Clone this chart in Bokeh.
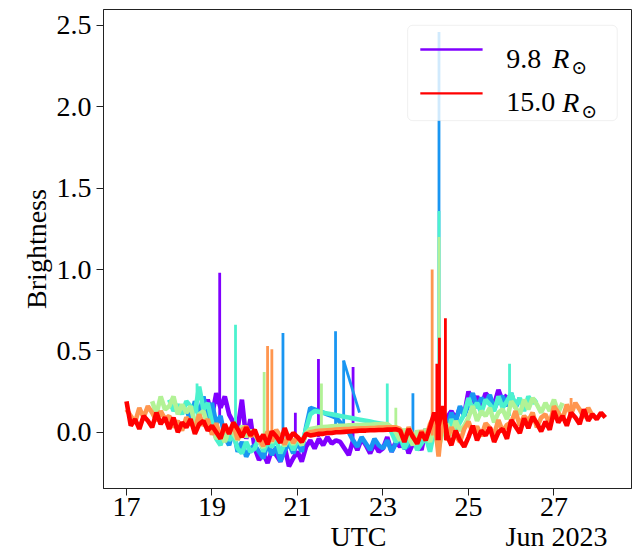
import numpy as np
from bokeh.plotting import figure
from bokeh.models import FixedTicker, BoxAnnotation, Range1d, PrintfTickFormatter
from bokeh.core.properties import value
from bokeh.embed import file_html
from bokeh.resources import INLINE

# Observation times: days of June 2023 (UTC), one sample every 0.1 d
days = np.round(np.arange(17.0, 28.2 + 1e-9, 0.1), 1)

# Heliocentric distances of the brightness profiles (solar radii)
radii = [9.8, 10.84, 11.88, 12.92, 13.96, 15.0]
colors = ["#8000ff", "#1996f2", "#4cf2ce", "#b2f296", "#ff964f", "#ff0000"]
starts = [18.8, 18.4, 18.0, 17.6, 17.0, 17.0]

bright_r0 = [
    0.12, 0.20,                                                        # 18.8
    0.10, 0.24, 0.15, 0.22, 0.11, 0.06, 0.02, 0.20, -0.04, 0.08,       # 19
    -0.10, -0.17, -0.13, -0.19, -0.11, -0.14, -0.18, -0.09, -0.21, -0.16,  # 20
    -0.12, -0.18, -0.09, -0.05, -0.10, -0.04, -0.08, -0.03, -0.07, -0.05,  # 21
    -0.06, -0.10, -0.14, -0.05, -0.11, -0.04, -0.08, -0.13, -0.07, -0.12,  # 22
    -0.10, -0.03, -0.12, -0.06, -0.09, -0.04, -0.13, -0.07, -0.05, -0.11,  # 23
    0.02, -0.05, 0.06, 0.00, 0.04, 0.09, 0.13, 0.08, 0.15, 0.11,       # 24
    0.25, 0.18, 0.22, 0.16, 0.24, 0.21, 0.17, 0.26, 0.19, 0.23,        # 25
]
bright_r1 = [
    0.14, 0.07, 0.19, 0.11, 0.22, 0.08,                                # 18.4
    0.18, 0.05, 0.10, -0.03, -0.08, 0.02, -0.12, -0.06, -0.15, -0.10,  # 19
    -0.08, -0.12, -0.16, -0.07, -0.14, -0.09, -0.18, -0.11, -0.07, -0.13,  # 20
    -0.06, -0.12, 0.03, 0.15, 0.14, 0.13, 0.12, 0.11, 0.10, 0.09,      # 21
    0.06, 0.03, 0.00, -0.05, -0.09, -0.03, -0.07, -0.11, -0.04, -0.08,  # 22
    -0.10, -0.05, -0.12, -0.07, -0.04, -0.10, -0.08, -0.02, -0.09, -0.05,  # 23
    -0.01, -0.09, 0.02, -0.06, 0.05, 0.02, 0.12, 0.06, 0.16, 0.10,     # 24
    0.17, 0.24, 0.15, 0.21, 0.18, 0.23, 0.14, 0.20, 0.22, 0.16,        # 25
    0.24, 0.15, 0.21,                                                  # 26
]
bright_r2 = [
    0.20, 0.13, 0.17, 0.11, 0.19, 0.16, 0.12, 0.28, 0.14, 0.18,        # 18
    0.06, -0.04, -0.08, 0.01, -0.05, -0.02, -0.10, -0.13, -0.06, -0.12,  # 19
    -0.10, -0.03, -0.12, -0.06, -0.09, -0.04, -0.13, -0.07, -0.05, -0.11,  # 20
    -0.05, -0.08, 0.02, 0.11, 0.13, 0.125, 0.12, 0.115, 0.11, 0.105,   # 21
    0.10, 0.095, 0.09, 0.085, 0.08, 0.075, 0.07, 0.065, 0.06, 0.055,   # 22
    0.05, 0.045, 0.00, -0.06, -0.02, -0.10, -0.05, -0.02, -0.11, -0.07,  # 23
    -0.03, -0.12, 0.01, -0.08, 0.04, -0.02, 0.08, 0.02, 0.06, 0.11,    # 24
    0.21, 0.14, 0.18, 0.12, 0.20, 0.17, 0.13, 0.22, 0.15, 0.19,        # 25
    0.24, 0.16, 0.21, 0.13, 0.22, 0.18, 0.20,                          # 26
]
bright_r3 = [
    0.19, 0.11, 0.22, 0.14,                                            # 17.6
    0.16, 0.22, 0.11, 0.17, 0.12, 0.16, 0.05, 0.11, 0.13, 0.04,        # 18
    0.03, -0.04, 0.00, -0.06, 0.02, -0.01, -0.05, 0.04, -0.03, 0.01,   # 19
    -0.015, -0.055, -0.095, -0.005, -0.065, 0.005, -0.035, -0.085, -0.025, -0.075,  # 20
    -0.03, -0.08, -0.01, 0.02, 0.025, 0.03, 0.032, 0.034, 0.036, 0.038,  # 21
    0.04, 0.04, 0.042, 0.042, 0.044, 0.044, 0.046, 0.046, 0.048, 0.048,  # 22
    0.05, 0.05, 0.03, 0.00, -0.05, 0.02, -0.03, -0.08, 0.01, -0.04,    # 23
    0.02, -0.06, 0.03, -0.10, 0.01, 0.05, -0.02, 0.07, 0.01, 0.04,     # 24
    0.09, 0.16, 0.07, 0.13, 0.10, 0.15, 0.06, 0.12, 0.14, 0.08,        # 25
    0.19, 0.15, 0.11, 0.20, 0.14, 0.21, 0.17, 0.12, 0.18, 0.13,        # 26
    0.20, 0.12, 0.18,                                                  # 27
]
bright_r4 = [
    0.14, 0.10, 0.06, 0.15, 0.09, 0.16, 0.12, 0.07, 0.13, 0.08,        # 17
    0.10, 0.03, 0.07, 0.01, 0.09, 0.06, 0.02, 0.11, 0.04, 0.08,        # 18
    -0.015, 0.055, -0.035, 0.025, -0.005, 0.045, -0.045, 0.015, 0.035, -0.025,  # 19
    -0.005, -0.045, -0.085, 0.005, -0.055, 0.015, -0.025, -0.075, -0.015, -0.065,  # 20
    -0.03, -0.06, -0.01, 0.00, 0.005, 0.008, 0.01, 0.012, 0.014, 0.016,  # 21
    0.018, 0.02, 0.02, 0.022, 0.022, 0.024, 0.024, 0.026, 0.026, 0.028,  # 22
    0.028, 0.03, 0.03, 0.03, 0.02, -0.05, 0.03, -0.02, -0.07, 0.01,    # 23
    -0.04, 0.05, 0.10, -0.15, 0.12, -0.05, 0.03, -0.02, -0.06, 0.02,   # 24
    0.065, -0.005, 0.035, -0.025, 0.055, 0.025, -0.015, 0.075, 0.005, 0.045,  # 25
    0.06, 0.13, 0.04, 0.10, 0.07, 0.12, 0.03, 0.09, 0.11, 0.05,        # 26
    0.16, 0.12, 0.08, 0.17, 0.11, 0.18, 0.14, 0.09, 0.15, 0.10,        # 27
]
bright_r5 = [
    0.19, 0.04, 0.08, 0.02, 0.10, 0.07, 0.03, 0.12, 0.05, 0.09,        # 17
    0.02, 0.09, 0.00, 0.06, 0.03, 0.08, -0.01, 0.05, 0.07, 0.01,       # 18
    0.04, 0.00, -0.04, 0.05, -0.01, 0.06, 0.02, -0.03, 0.03, -0.02,    # 19
    0.015, -0.055, -0.015, -0.075, 0.005, -0.025, -0.065, 0.025, -0.045, -0.005,  # 20
    -0.03, -0.06, -0.01, -0.02, -0.015, -0.01, -0.01, -0.005, -0.005, 0.0,  # 21
    0.0, 0.002, 0.004, 0.006, 0.008, 0.01, 0.01, 0.012, 0.012, 0.014,  # 22
    0.014, 0.016, 0.016, 0.018, 0.01, -0.06, 0.02, -0.03, -0.07, 0.00,  # 23
    -0.05, 0.03, 0.12, 0.04, 0.16, -0.02, -0.08, 0.01, -0.05, -0.09,   # 24
    -0.03, 0.04, -0.05, 0.01, -0.02, 0.03, -0.06, 0.00, 0.02, -0.04,   # 25
    0.075, 0.035, -0.005, 0.085, 0.025, 0.095, 0.055, 0.005, 0.065, 0.015,  # 26
    0.13, 0.06, 0.10, 0.04, 0.12, 0.09, 0.05, 0.14, 0.07, 0.11,        # 27
    0.08, 0.12, 0.09,                                                  # 28
]
profiles = [bright_r0, bright_r1, bright_r2, bright_r3, bright_r4, bright_r5]

# Isolated transient spikes: (t0, b0) -> (t1, b1) and the profile they belong to
spike_t0 = [18.65, 19.18, 19.55, 20.22, 20.30, 20.40, 20.66, 20.95, 21.49, 21.56,
            21.89, 22.08, 22.08, 22.30, 23.10, 23.30, 23.70, 24.15, 24.31, 24.31,
            24.31, 24.26, 24.32, 24.46, 25.96, 27.40]
spike_b0 = [0.05, 0.10, 0.00, -0.02, -0.02, -0.02, -0.05, -0.05, -0.03, 0.03,
            0.05, 0.05, 0.44, -0.05, 0.03, 0.00, -0.03, -0.02, 0.00, 0.00,
            0.00, -0.05, -0.05, -0.05, 0.10, 0.10]
spike_t1 = [18.65, 19.18, 19.55, 20.22, 20.30, 20.40, 20.66, 20.95, 21.49, 21.56,
            21.89, 22.08, 22.45, 22.30, 23.10, 23.30, 23.70, 24.15, 24.31, 24.31,
            24.31, 24.26, 24.32, 24.46, 25.96, 27.40]
spike_b1 = [0.30, 0.98, 0.66, 0.37, 0.53, 0.51, 0.61, 0.12, 0.45, 0.30,
            0.62, 0.44, 0.12, 0.40, 0.30, 0.15, 0.24, 1.00, 2.46, 1.36,
            1.20, 0.42, 0.58, 0.70, 0.42, 0.21]
spike_prof = [2, 0, 2, 3, 4, 4, 1, 0, 0, 3,
              1, 1, 1, 0, 2, 3, 1, 4, 1, 2,
              3, 5, 5, 5, 2, 4]

x_ticks = [17, 19, 21, 23, 25, 27]
y_ticks = [0.0, 0.5, 1.0, 1.5, 2.0, 2.5]

x_lo, x_hi = 16.462, 28.813
y_lo, y_hi = -0.346, 2.598

SERIF = "Liberation Serif"
FS = "28px"
NB = "\u00a0"

p = figure(width=633, height=559, output_backend="svg", toolbar_location=None,
           x_range=Range1d(x_lo, x_hi), y_range=Range1d(y_lo, y_hi),
           min_border_left=103, min_border_right=2, min_border_top=9,
           min_border_bottom=71, background_fill_color="white",
           border_fill_color="white")
p.xgrid.visible = False
p.ygrid.visible = False
p.outline_line_color = "#222222"
p.outline_line_width = 1

for ax in (p.xaxis[0], p.yaxis[0]):
    ax.axis_line_color = "#222222"
    ax.major_tick_line_color = "#222222"
    ax.major_tick_out = 7
    ax.major_tick_in = 0
    ax.minor_tick_out = 0
    ax.minor_tick_in = 0
    ax.major_label_text_font = SERIF
    ax.major_label_text_font_size = FS
    ax.major_label_text_color = "black"
    ax.axis_label_text_font = SERIF
    ax.axis_label_text_font_size = FS
    ax.axis_label_text_font_style = "normal"
    ax.axis_label_text_color = "black"

p.xaxis.ticker = FixedTicker(ticks=x_ticks)
p.xaxis.major_label_standoff = 2
# axis title with the date offset ("Jun 2023") on the same line, flush right
p.xaxis.axis_label = NB * 29 + "UTC" + NB * 17 + "Jun 2023"
p.xaxis.axis_label_standoff = 2
p.yaxis.ticker = FixedTicker(ticks=y_ticks)
p.yaxis.formatter = PrintfTickFormatter(format="%.1f")
p.yaxis.major_label_standoff = 5
p.yaxis.axis_label = "Brightness"
p.yaxis.axis_label_standoff = 2

# Profiles, innermost first so the outer ones sit on top
for k, vals in enumerate(profiles):
    y = np.full(len(days), np.nan)
    i0 = int(round((starts[k] - 17.0) / 0.1))
    n = min(len(vals), len(days) - i0)
    y[i0:i0 + n] = vals[:n]
    p.line(days, y, line_color=colors[k], line_width=4.6, line_join="bevel")
    sel = [j for j, s in enumerate(spike_prof) if s == k]
    if sel:
        p.segment([spike_t0[j] for j in sel], [spike_b0[j] for j in sel],
                  [spike_t1[j] for j in sel], [spike_b1[j] for j in sel],
                  line_color=colors[k], line_width=2.8)


def fx(f):
    return x_lo + f * (x_hi - x_lo)


def fy(f):
    return y_hi - f * (y_hi - y_lo)


# Legend box with the two outermost profiles
p.add_layout(BoxAnnotation(left=fx(0.576), right=fx(0.973), top=fy(0.033), bottom=fy(0.232),
                           fill_color="white", fill_alpha=0.8, line_color="#cccccc",
                           line_width=1, border_radius=5))
rows = [(0, 0.0835, 0.1023, 0.1195, 0.850, 0.886), (5, 0.175, 0.194, 0.2115, 0.869, 0.905)]
for k, yline, ybase, ysub, xr, xsub in rows:
    p.line([fx(0.600), fx(0.718)], [fy(yline), fy(yline)], line_color=colors[k],
           line_width=2.4, level="overlay")
    p.text([fx(0.763)], [fy(ybase)], text=[f"{radii[k]:.1f}"], text_font=value(SERIF),
           text_font_size=FS, text_color="black", text_baseline="alphabetic",
           text_align="left", level="overlay")
    p.text([fx(xr)], [fy(ybase)], text=["R"], text_font=value(SERIF),
           text_font_size=FS, text_font_style="italic", text_color="black",
           text_baseline="alphabetic", text_align="left", level="overlay")
    p.text([fx(xsub)], [fy(ysub)], text=["⊙"], text_font=value("DejaVu Serif"),
           text_font_size="19px", text_color="black", text_baseline="alphabetic",
           text_align="left", level="overlay")

open("out.html", "w").write(file_html(p, INLINE))
